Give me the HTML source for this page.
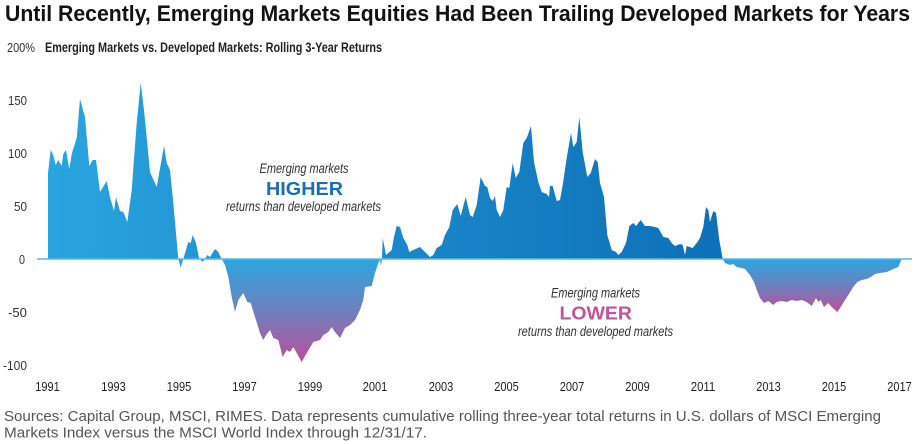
<!DOCTYPE html>
<html><head><meta charset="utf-8"><style>
html,body{margin:0;padding:0;background:#fff;width:916px;height:444px;overflow:hidden}
svg{display:block}
text{font-family:"Liberation Sans",sans-serif}
</style></head><body>
<svg width="916" height="444" viewBox="0 0 916 444" xmlns="http://www.w3.org/2000/svg">
<defs>
<linearGradient id="gpos" gradientUnits="userSpaceOnUse" x1="48" y1="0" x2="722" y2="0">
<stop offset="0" stop-color="#2aa4de"/><stop offset="0.5" stop-color="#1a88cb"/><stop offset="1" stop-color="#0e70b7"/>
</linearGradient>
<linearGradient id="gnegB" gradientUnits="userSpaceOnUse" x1="0" y1="259" x2="0" y2="362">
<stop offset="0" stop-color="#2ca6df"/><stop offset="0.5" stop-color="#6e80be"/><stop offset="1" stop-color="#b9509a"/>
</linearGradient>
<linearGradient id="gnegC" gradientUnits="userSpaceOnUse" x1="0" y1="259" x2="0" y2="312">
<stop offset="0" stop-color="#2ca6df"/><stop offset="0.5" stop-color="#6e80be"/><stop offset="1" stop-color="#b9509a"/>
</linearGradient>
<clipPath id="cpos"><rect x="0" y="0" width="916" height="259"/></clipPath>
<clipPath id="cnegB"><rect x="0" y="259" width="560" height="185"/></clipPath>
<clipPath id="cnegC"><rect x="560" y="259" width="356" height="185"/></clipPath>
<path id="series" d="M48,259 L48,173 L50.7,150 L53.3,155 L55.7,165 L58.3,160 L61.7,166 L63.3,154 L66,150 L69.3,169 L71.7,154 L76.7,138 L80,99 L85,117 L89.3,166 L92.7,160 L96,160 L100,192 L106.7,181 L110,197 L114,211 L116,197 L120,211 L123.3,212 L127.3,222 L131.7,190 L136.7,123 L140.7,83 L144,110 L150,172 L156.7,187 L164,146 L166.7,163 L170,170 L173.3,203 L178.3,259 L180.7,268 L183.3,259 L188.3,242 L190.7,243 L192.7,235 L196,243 L199.3,259 L202.7,262 L205,259 L207.3,255 L210,257 L215,249 L218.3,252 L221.7,259 L225,265 L228.3,277 L231.7,297 L235,312 L238.3,300 L243.3,293 L247.3,302 L250.7,303 L255,317 L260,333 L263.3,340 L266,335 L270,330 L273.3,338 L278.3,340 L282.7,357 L286.7,350 L290,352 L293.3,347 L296.7,353 L301.7,362 L306.7,353 L313.3,342 L320,340 L323.3,335 L328.3,332 L331.7,327 L335,332 L340,338 L345,328 L350,325 L355,320 L360,310 L363.3,300 L365,287 L371.7,286 L375,273 L378.3,263 L380,260 L381,266 L382,259 L382.7,238 L386,255 L391.7,250 L394,237 L396.7,226 L400,227 L403.3,238 L407.3,245 L409.3,252 L413.3,250 L420,247 L425,252 L430,257 L433.3,255 L436.7,248 L441.7,245 L445,235 L449.3,227 L452.7,210 L457.3,204 L460.7,216 L465.7,197 L470,215 L472.7,217 L476.7,205 L480.7,177 L485,186 L487.3,187 L490,198 L492.7,201 L495,196 L496.7,210 L500,217 L503.3,210 L506.7,187 L509.3,188 L512.7,163 L515.7,178 L519.3,172 L523.3,143 L526.7,138 L531,126 L534,162 L538.3,182 L541.7,192 L546.7,194 L549,197 L550,186 L552.7,186 L556.7,201 L560,200 L562.7,185 L566.7,158 L571,133 L573.3,147 L576.7,142 L579.3,117 L582.7,152 L587.3,177 L590.7,173 L595,159 L597.7,162 L600,183 L604,197 L607.3,235 L611.7,250 L616,252 L618.3,255 L621.7,252 L626,243 L629.3,226 L633.3,223 L636,226 L640.7,220 L645,226 L650,226 L655,227 L658.3,228 L663.3,237 L668.3,238 L671.7,243 L675,246 L680,244 L682.7,245 L685,255 L686.7,246 L692.7,248 L696.7,243 L700,238 L703.3,227 L706,207 L708.3,210 L710,222 L713.3,211 L716,213 L719.3,240 L722.7,259 L725,263 L730,265 L733.3,264 L736.7,267 L741.7,268 L745,269 L750,275 L754,282 L756.7,290 L760,298 L764,303 L768.3,301 L773.3,305 L776.7,302 L781.7,301 L786.7,302 L791.7,300 L796.7,301 L801.7,300 L806.7,302 L811.7,306 L816,298 L818.3,302 L820.7,300 L824,307 L828.3,303 L831.7,307 L837.3,312 L840.7,307 L845,300 L848.3,295 L853.3,287 L857.3,282 L861.7,280 L866.7,279 L870.7,277 L875,274 L880,273 L886.7,272 L893.3,269 L898.3,267 L901.7,259 Z"/>
</defs>

<!-- Title -->
<text x="5" y="21" font-size="22" font-weight="bold" fill="#111" textLength="905" lengthAdjust="spacingAndGlyphs">Until Recently, Emerging Markets Equities Had Been Trailing Developed Markets for Years</text>

<!-- subtitle -->
<text x="7" y="52" font-size="13" fill="#333" textLength="28" lengthAdjust="spacingAndGlyphs">200%</text>
<text x="45" y="52" font-size="13.5" font-weight="bold" fill="#222" textLength="337" lengthAdjust="spacingAndGlyphs">Emerging Markets vs. Developed Markets: Rolling 3-Year Returns</text>

<!-- y labels -->
<g font-size="13" fill="#333" text-anchor="end">
<text x="27" y="105" textLength="19" lengthAdjust="spacingAndGlyphs">150</text>
<text x="27" y="158" textLength="19" lengthAdjust="spacingAndGlyphs">100</text>
<text x="27" y="211" textLength="13" lengthAdjust="spacingAndGlyphs">50</text>
<text x="25" y="264" textLength="6" lengthAdjust="spacingAndGlyphs">0</text>
<text x="27" y="317" textLength="19" lengthAdjust="spacingAndGlyphs">-50</text>
<text x="27" y="370" textLength="24" lengthAdjust="spacingAndGlyphs">-100</text>
</g>

<!-- areas -->
<use href="#series" fill="url(#gpos)" clip-path="url(#cpos)"/>
<use href="#series" fill="url(#gnegB)" clip-path="url(#cnegB)"/>
<use href="#series" fill="url(#gnegC)" clip-path="url(#cnegC)"/>

<!-- zero line -->
<line x1="37" y1="259" x2="912" y2="259" stroke="#5ab8e8" stroke-width="1.5"/>

<!-- x labels -->
<g font-size="12.5" fill="#222" text-anchor="middle">
<text x="47.5" y="391" textLength="24.5" lengthAdjust="spacingAndGlyphs">1991</text>
<text x="113.5" y="391" textLength="24.5" lengthAdjust="spacingAndGlyphs">1993</text>
<text x="179" y="391" textLength="24.5" lengthAdjust="spacingAndGlyphs">1995</text>
<text x="244.5" y="391" textLength="24.5" lengthAdjust="spacingAndGlyphs">1997</text>
<text x="310" y="391" textLength="24.5" lengthAdjust="spacingAndGlyphs">1999</text>
<text x="375" y="391" textLength="24.5" lengthAdjust="spacingAndGlyphs">2001</text>
<text x="441" y="391" textLength="24.5" lengthAdjust="spacingAndGlyphs">2003</text>
<text x="506.5" y="391" textLength="24.5" lengthAdjust="spacingAndGlyphs">2005</text>
<text x="572" y="391" textLength="24.5" lengthAdjust="spacingAndGlyphs">2007</text>
<text x="637.5" y="391" textLength="24.5" lengthAdjust="spacingAndGlyphs">2009</text>
<text x="703" y="391" textLength="24.5" lengthAdjust="spacingAndGlyphs">2011</text>
<text x="768.5" y="391" textLength="24.5" lengthAdjust="spacingAndGlyphs">2013</text>
<text x="834" y="391" textLength="24.5" lengthAdjust="spacingAndGlyphs">2015</text>
<text x="899.5" y="391" textLength="24.5" lengthAdjust="spacingAndGlyphs">2017</text>
</g>

<!-- annotations -->
<g fill="#333" font-style="italic" font-size="13.5">
<text x="259.5" y="173" textLength="89" lengthAdjust="spacingAndGlyphs">Emerging markets</text>
<text x="226" y="211" textLength="155" lengthAdjust="spacingAndGlyphs">returns than developed markets</text>
<text x="551" y="297.5" textLength="89" lengthAdjust="spacingAndGlyphs">Emerging markets</text>
<text x="518" y="336" textLength="155" lengthAdjust="spacingAndGlyphs">returns than developed markets</text>
</g>
<text x="266" y="195" font-size="18" font-weight="bold" fill="#1a6db5" textLength="77" lengthAdjust="spacingAndGlyphs">HIGHER</text>
<text x="559.5" y="319.5" font-size="18" font-weight="bold" fill="#c5509b" textLength="72.5" lengthAdjust="spacingAndGlyphs">LOWER</text>

<!-- sources -->
<g font-size="15" fill="#555">
<text x="4" y="421" textLength="877" lengthAdjust="spacingAndGlyphs">Sources: Capital Group, MSCI, RIMES. Data represents cumulative rolling three-year total returns in U.S. dollars of MSCI Emerging</text>
<text x="4" y="437.5" textLength="423" lengthAdjust="spacingAndGlyphs">Markets Index versus the MSCI World Index through 12/31/17.</text>
</g>
</svg>
</body></html>
